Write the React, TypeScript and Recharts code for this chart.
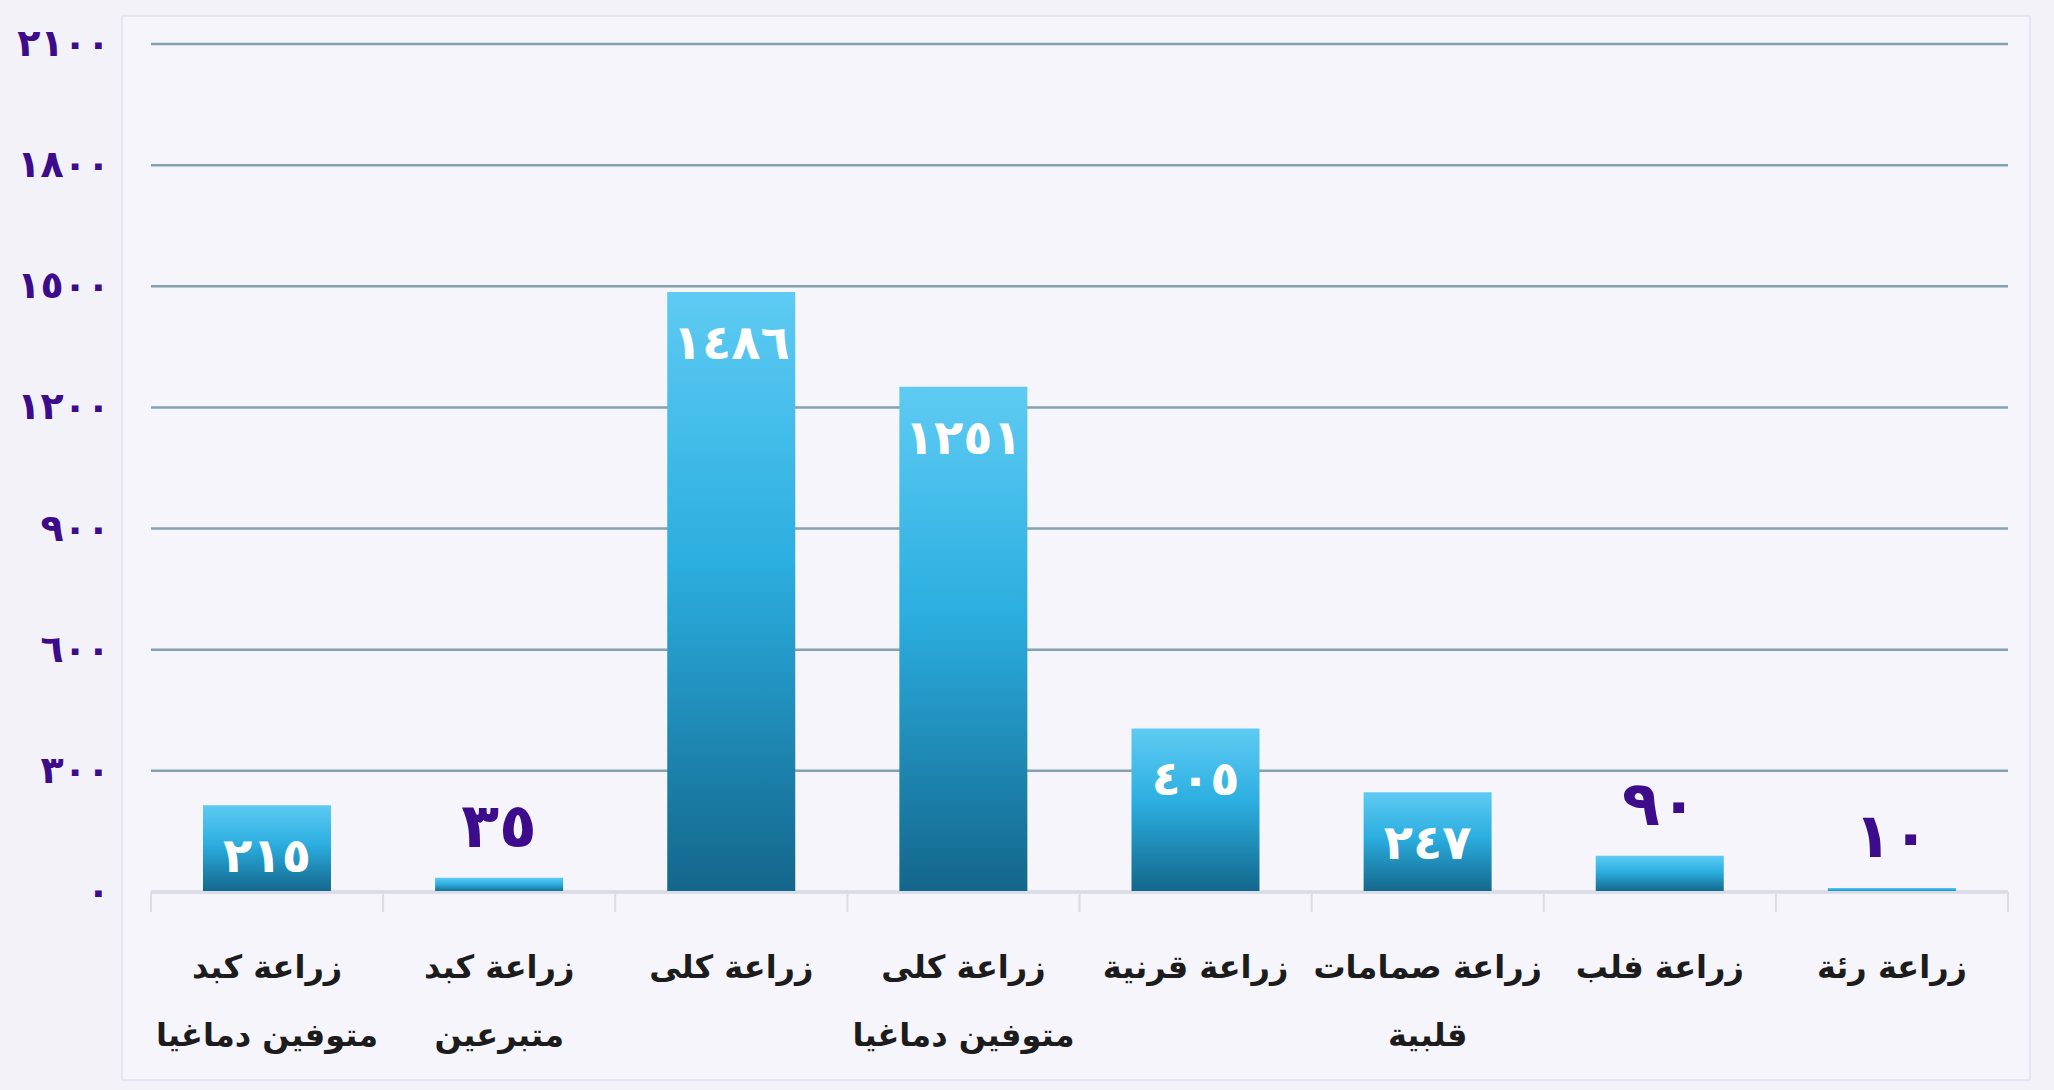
import React from "react";
import { BarChart, Bar, XAxis, YAxis, CartesianGrid, LabelList } from "recharts";

const categories = [
  "زراعة كبد|متوفين دماغيا",
  "زراعة كبد|متبرعين",
  "زراعة كلى",
  "زراعة كلى|متوفين دماغيا",
  "زراعة قرنية",
  "زراعة صمامات|قلبية",
  "زراعة فلب",
  "زراعة رئة",
];
const values = [215, 35, 1486, 1251, 405, 247, 90, 10];
const yTicks = [0, 300, 600, 900, 1200, 1500, 1800, 2100];

const data = categories.map((c, i) => ({ name: c, value: values[i] }));

const AR_DIGITS = "٠١٢٣٤٥٦٧٨٩";
const toArabic = (n: number | string) => String(n).replace(/\d/g, (d) => AR_DIGITS[+d]);

const FONT = "'DejaVu Sans', sans-serif";
const PURPLE = "#3c0c8a";

const YTick = (props: any) => {
  const { x, y, payload } = props;
  return (
    <text x={x + 3} y={y} dy={12} textAnchor="end" fill={PURPLE} fontFamily={FONT} fontWeight="bold" fontSize={38}>
      {toArabic(payload.value)}
    </text>
  );
};

const XTick = (props: any) => {
  const { x, y, payload, index, width, visibleTicksCount } = props;
  const half = payload.offset || width / (visibleTicksCount || 8) / 2;
  const lines = String(payload.value).split("|");
  const lastIdx = (visibleTicksCount || 8) - 1;
  return (
    <g>
      <line x1={x - half} x2={x - half} y1={y - 8} y2={y + 12} stroke="#dcdbe6" strokeWidth={2} />
      {index === lastIdx && (
        <line x1={x + half} x2={x + half} y1={y - 8} y2={y + 12} stroke="#dcdbe6" strokeWidth={2} />
      )}
      {lines.map((l, i) => (
        <text
          key={i}
          x={x}
          y={y + 78 + i * 68}
          textAnchor="middle"
          direction="rtl"
          fill="#1c1c1c"
          fontFamily={FONT}
          fontWeight="bold"
          fontSize={32}
        >
          {l}
        </text>
      ))}
    </g>
  );
};

const ValueLabel = (props: any) => {
  const { x, y, width, value } = props;
  const cx = x + width / 2;
  if (value >= 200) {
    return (
      <text x={cx} y={y + 51} dy={16} textAnchor="middle" fill="#ffffff" fontFamily={FONT} fontWeight="bold" fontSize={48}>
        {toArabic(value)}
      </text>
    );
  }
  return (
    <text x={cx} y={y - 52} dy={21} textAnchor="middle" fill={PURPLE} fontFamily={FONT} fontWeight="bold" fontSize={62}>
      {toArabic(value)}
    </text>
  );
};

export default function App() {
  return (
    <div style={{ position: "absolute", left: 0, top: 0, width: 2054, height: 1090, background: "#f3f2f9", overflow: "hidden" }}>
      <div
        style={{
          position: "absolute",
          left: 121,
          top: 15,
          width: 1910,
          height: 1066,
          background: "#f6f5fc",
          border: "2px solid #e6e4f2",
          boxSizing: "border-box",
        }}
      />
      <div style={{ position: "absolute", left: 0, top: 0 }}>
        <BarChart
          width={2054}
          height={1090}
          data={data}
          margin={{ top: 44, right: 46, bottom: 48, left: 0 }}
          barCategoryGap="22.4%"
        >
          <defs>
            <linearGradient id="barGrad" x1="0" y1="0" x2="0" y2="1">
              <stop offset="0%" stopColor="#5ecbf3" />
              <stop offset="45%" stopColor="#2baee0" />
              <stop offset="100%" stopColor="#13668b" />
            </linearGradient>
          </defs>
          <CartesianGrid horizontal={true} vertical={false} stroke="#86a2b0" strokeWidth={2.5} />
          <XAxis
            dataKey="name"
            height={150}
            interval={0}
            tickLine={false}
            axisLine={{ stroke: "#dcdbe6", strokeWidth: 2 }}
            tick={<XTick />}
          />
          <YAxis
            width={151}
            domain={[0, 2100]}
            ticks={yTicks}
            interval={0}
            axisLine={false}
            tickLine={false}
            tickMargin={38}
            tick={<YTick />}
          />
          <Bar dataKey="value" fill="url(#barGrad)" isAnimationActive={false}>
            <LabelList dataKey="value" content={<ValueLabel />} />
          </Bar>
        </BarChart>
      </div>
    </div>
  );
}
